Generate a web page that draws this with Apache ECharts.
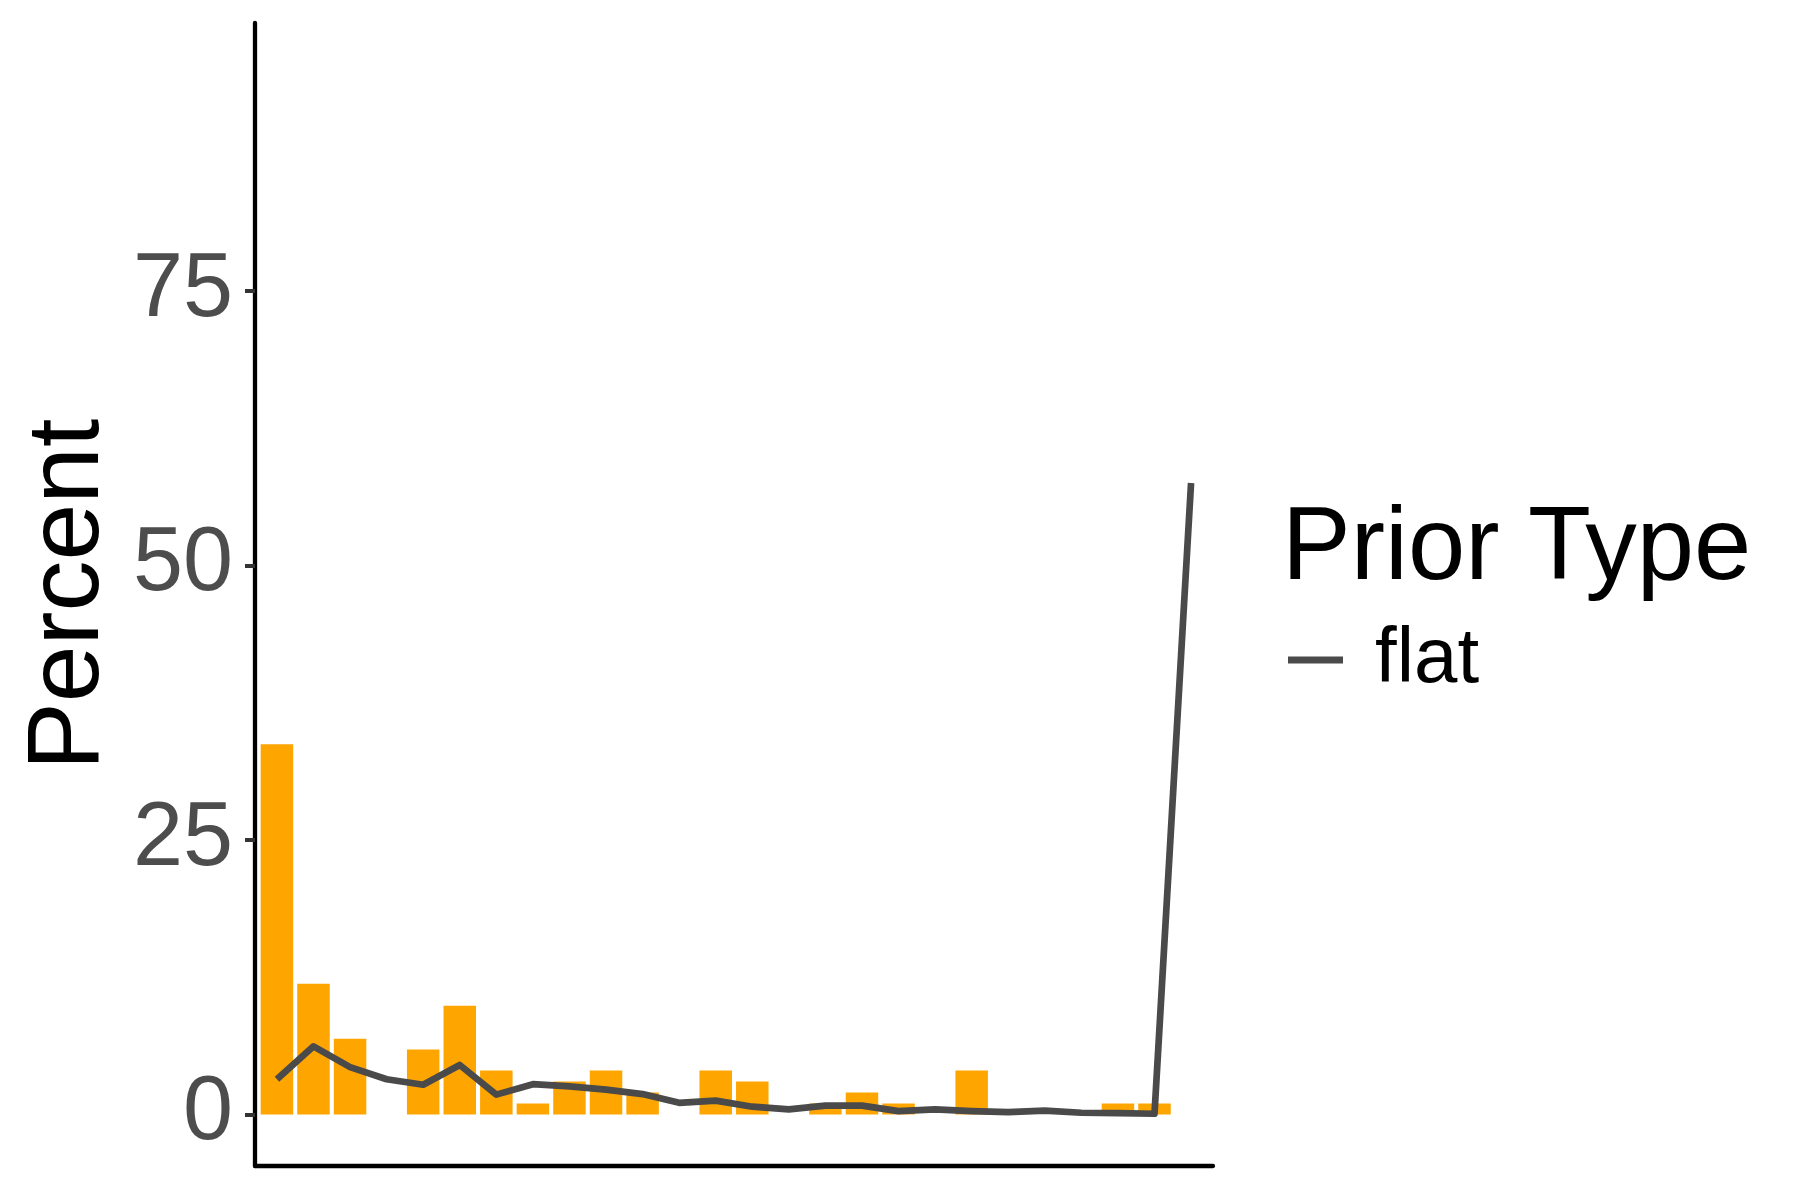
<!DOCTYPE html>
<html>
<head>
<meta charset="utf-8">
<title>Percent by bin, prior type</title>
<script src="https://cdn.jsdelivr.net/npm/echarts@6/dist/echarts.min.js"></script>
<style>
  html, body { margin: 0; padding: 0; background: #fff; }
  #chart { width: 1800px; height: 1200px; }
</style>
</head>
<body>
<div id="chart"></div>
<script>
// bins along the (unlabelled) x axis
const bins = [1, 2, 3, 4, 5, 6, 7, 8, 9, 10, 11, 12, 13, 14, 15, 16, 17, 18, 19, 20, 21, 22, 23, 24, 25, 26]
// observed percent (orange bars)
const observed = [33.7, 11.9, 6.9, 0, 5.9, 9.9, 4.0, 1.0, 3.0, 4.0, 2.0, 0, 4.0, 3.0, 0, 1.0, 2.0, 1.0, 0, 4.0, 0, 0, 0, 1.0, 1.0, 0]
// prior "flat" line
const flat = [3.2, 6.2, 4.3, 3.2, 2.7, 4.5, 1.8, 2.75, 2.55, 2.25, 1.85, 1.05, 1.25, 0.7, 0.45, 0.8, 0.8, 0.3, 0.45, 0.3, 0.2, 0.35, 0.15, 0.12, 0.06, 57.5]
const yTicks = [0, 25, 50, 75]

const FONT = '"Liberation Sans", Arial, Helvetica, sans-serif'

const chart = echarts.init(document.getElementById('chart'), null, { renderer: 'canvas' })

const option = {
  animation: false,
  backgroundColor: '#ffffff',
  textStyle: { fontFamily: FONT },
  title: {
    text: 'Prior Type',
    left: 1282,
    top: 499,
    padding: 0,
    textStyle: { fontFamily: FONT, fontSize: 103, fontWeight: 'normal', color: '#000' }
  },
  legend: {
    data: [{ name: 'flat', icon: 'rect' }],
    left: 1288,
    top: 621,
    padding: 0,
    itemWidth: 55,
    itemHeight: 7,
    textStyle: { fontFamily: FONT, fontSize: 78, color: '#000', padding: [0, 0, 0, 27] }
  },
  grid: {
    left: 255,
    right: 587,
    top: 23,
    bottom: 34,
    containLabel: false,
    outerBoundsMode: 'none'
  },
  xAxis: {
    type: 'value',
    min: 0.4,
    max: 26.6,
    axisLine: { show: true, onZero: false, lineStyle: { color: '#000', width: 4.3 } },
    axisTick: { show: false },
    axisLabel: { show: false },
    splitLine: { show: false }
  },
  yAxis: {
    type: 'value',
    min: -4.7,
    max: 99.4,
    name: 'Percent',
    nameLocation: 'middle',
    nameRotate: 90,
    nameGap: 134,
    nameTextStyle: { fontFamily: FONT, fontSize: 102, color: '#000' },
    axisLine: { show: true, onZero: false, lineStyle: { color: '#000', width: 4.3 } },
    axisTick: {
      show: true,
      length: 10,
      customValues: yTicks,
      lineStyle: { color: '#333333', width: 4 }
    },
    axisLabel: {
      customValues: yTicks,
      margin: 22,
      fontFamily: FONT,
      fontSize: 90,
      color: '#4D4D4D'
    },
    splitLine: { show: false }
  },
  series: [
    {
      name: 'observed',
      type: 'bar',
      barWidth: 32.5,
      data: bins.map((b, i) => [b, observed[i]]),
      itemStyle: { color: '#FFA500' }
    },
    {
      name: 'flat',
      type: 'line',
      showSymbol: false,
      symbol: 'none',
      data: bins.map((b, i) => [b, flat[i]]),
      lineStyle: { color: '#4A4A4A', width: 6.7, join: 'round' },
      itemStyle: { color: '#4A4A4A' }
    }
  ]
}

chart.setOption(option)
</script>
</body>
</html>
